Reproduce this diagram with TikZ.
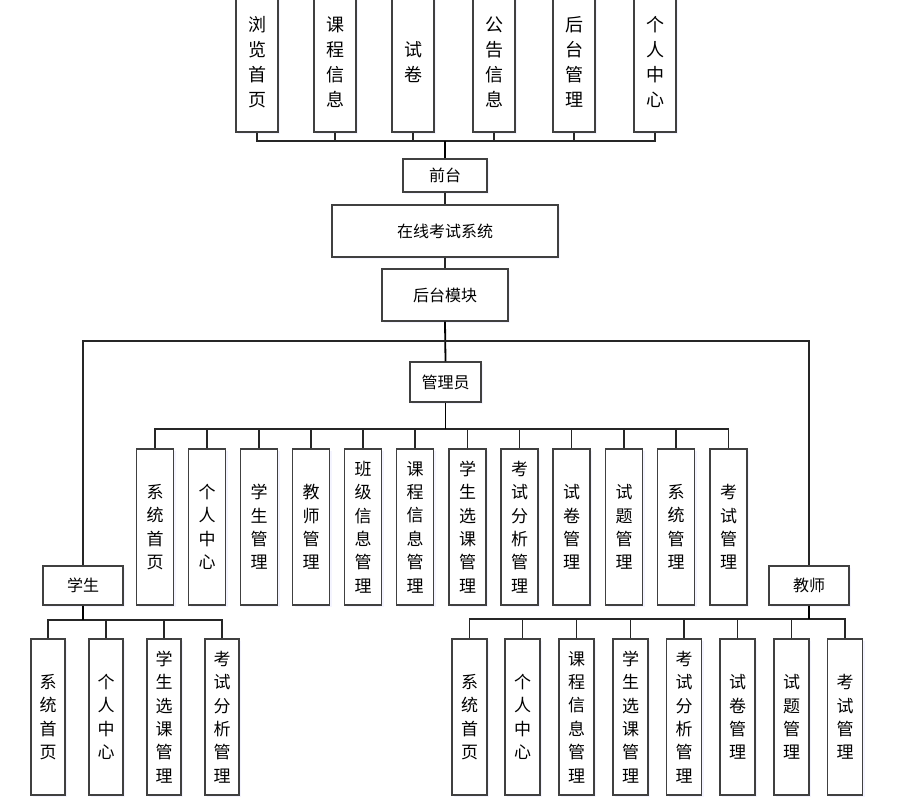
\documentclass[tikz,border=0pt]{standalone}
\usepackage{fontspec}
\setmainfont{Noto Sans CJK SC}
\usetikzlibrary{shadows}

\begin{document}
\begin{tikzpicture}[
  x=1pt, y=-1pt,
  module/.style={
    draw=black!75, fill=white, line width=1.3pt, inner sep=0pt,
    font=\fontsize{16}{18}\selectfont,
    drop shadow={shadow xshift=2pt, shadow yshift=-2pt, fill=blue!35, opacity=0.12}
  },
  leaf/.style={module, align=center, font=\fontsize{17}{23.4}\selectfont},
  topleaf/.style={leaf, minimum width=42pt, minimum height=140pt, font=\fontsize{18}{25}\selectfont},
  midleaf/.style={leaf, minimum width=37pt, minimum height=156pt},
  lowleaf/.style={leaf, minimum width=35pt, minimum height=156pt},
  link/.style={line width=1.2pt, black!85},
  trunk/.style={link, line width=1.8pt, black},
]
\clip (0,0) rectangle (907,804);

% front end
\node[topleaf] (f1) at (257,62) {浏\\览\\首\\页};
\node[topleaf] (f2) at (335,62) {课\\程\\信\\息};
\node[topleaf] (f3) at (413,62) {试\\卷};
\node[topleaf] (f4) at (494,62) {公\\告\\信\\息};
\node[topleaf] (f5) at (574,62) {后\\台\\管\\理};
\node[topleaf] (f6) at (655,62) {个\\人\\中\\心};

\node[module, minimum width=84pt, minimum height=33pt]  (front) at (445,175.5) {前台};
\node[module, minimum width=226pt, minimum height=52pt] (sys)   at (445,231)   {在线考试系统};
\node[module, minimum width=126pt, minimum height=52pt] (back)  at (445,295)   {后台模块};

% roles
\node[module, minimum width=71pt, minimum height=40pt] (admin) at (445.5,382) {管理员};
\node[module, minimum width=80pt, minimum height=39pt] (stu)   at (83,585.5)  {学生};
\node[module, minimum width=80pt, minimum height=39pt] (tch)   at (809,585.5) {教师};

% admin functions
\node[midleaf] (a1)  at (155,527)   {系\\统\\首\\页};
\node[midleaf] (a2)  at (207,527)   {个\\人\\中\\心};
\node[midleaf] (a3)  at (259,527)   {学\\生\\管\\理};
\node[midleaf] (a4)  at (311,527)   {教\\师\\管\\理};
\node[midleaf] (a5)  at (363,527)   {班\\级\\信\\息\\管\\理};
\node[midleaf] (a6)  at (415,527)   {课\\程\\信\\息\\管\\理};
\node[midleaf] (a7)  at (467.5,527) {学\\生\\选\\课\\管\\理};
\node[midleaf] (a8)  at (519.5,527) {考\\试\\分\\析\\管\\理};
\node[midleaf] (a9)  at (571.5,527) {试\\卷\\管\\理};
\node[midleaf] (a10) at (624,527)   {试\\题\\管\\理};
\node[midleaf] (a11) at (676,527)   {系\\统\\管\\理};
\node[midleaf] (a12) at (728.5,527) {考\\试\\管\\理};

% student functions
\node[lowleaf, minimum width=34pt] (s1) at (48,717)  {系\\统\\首\\页};
\node[lowleaf, minimum width=34pt] (s2) at (106,717) {个\\人\\中\\心};
\node[lowleaf, minimum width=34pt] (s3) at (164,717) {学\\生\\选\\课\\管\\理};
\node[lowleaf, minimum width=34pt] (s4) at (222,717) {考\\试\\分\\析\\管\\理};

% teacher functions
\node[lowleaf] (t1) at (469.5,717) {系\\统\\首\\页};
\node[lowleaf] (t2) at (522.5,717) {个\\人\\中\\心};
\node[lowleaf] (t3) at (576.5,717) {课\\程\\信\\息\\管\\理};
\node[lowleaf] (t4) at (630.5,717) {学\\生\\选\\课\\管\\理};
\node[lowleaf] (t5) at (684,717)   {考\\试\\分\\析\\管\\理};
\node[lowleaf] (t6) at (737.5,717) {试\\卷\\管\\理};
\node[lowleaf] (t7) at (791.5,717) {试\\题\\管\\理};
\node[lowleaf] (t8) at (845,717)   {考\\试\\管\\理};

% bus points
\coordinate (fbus) at (445,141);
\coordinate (mbus) at (445,341);
\coordinate (abus) at (445.5,429);
\coordinate (sbus) at (83,620);
\coordinate (tbus) at (809,619);

\draw[link] (fbus) -| (f1.south)
            (fbus) -| (f2.south) (fbus) -| (f3.south)
            (fbus) -| (f4.south) (fbus) -| (f5.south)
            (fbus) -| (f6.south);
\draw[trunk] (front.north) -- (fbus);
\draw[link] (front.south) -- (sys.north);
\draw[link] (sys.south)   -- (back.north);
\draw[trunk] (back.south)  -- (admin.north);
\draw[link] (mbus) -| (stu.north);
\draw[link] (mbus) -| (tch.north);
\draw[link] (abus) -| (a1.north)
            (abus) -| (a2.north) (abus) -| (a3.north)
            (abus) -| (a4.north) (abus) -| (a5.north)
            (abus) -| (a6.north) (abus) -| (a7.north)
            (abus) -| (a8.north) (abus) -| (a9.north)
            (abus) -| (a10.north) (abus) -| (a11.north)
            (abus) -| (a12.north);
\draw[trunk] (admin.south) -- (abus);
\draw[link] (sbus) -| (s1.north)
            (sbus) -| (s2.north) (sbus) -| (s3.north)
            (sbus) -| (s4.north);
\draw[trunk] (stu.south) -- (sbus);
\draw[link] (tbus) -| (t1.north)
            (tbus) -| (t2.north) (tbus) -| (t3.north)
            (tbus) -| (t4.north) (tbus) -| (t5.north)
            (tbus) -| (t6.north) (tbus) -| (t7.north)
            (tbus) -| (t8.north);
\draw[trunk] (tch.south) -- (tbus);

\end{tikzpicture}
\end{document}
